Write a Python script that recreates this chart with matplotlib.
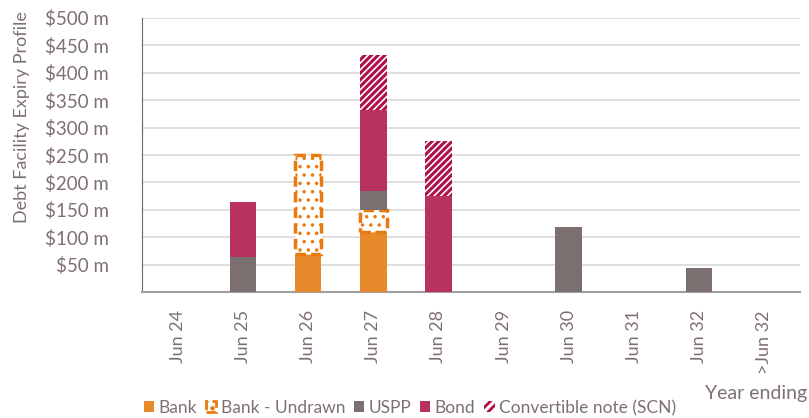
import numpy as np
from matplotlib import pyplot as plt
from matplotlib.patches import Patch

plt.rcParams['font.family'] = ['Lato', 'DejaVu Sans']

categories = ['Jun 24', 'Jun 25', 'Jun 26', 'Jun 27', 'Jun 28', 'Jun 29',
              'Jun 30', 'Jun 31', 'Jun 32', '>Jun 32']
bank = [0, 0, 70, 110, 0, 0, 0, 0, 0, 0]
bank_undrawn = [0, 0, 180, 40, 0, 0, 0, 0, 0, 0]
uspp = [0, 65, 0, 35, 0, 0, 118, 0, 45, 0]
bond = [0, 100, 0, 148, 175, 0, 0, 0, 0, 0]
scn = [0, 0, 0, 100, 100, 0, 0, 0, 0, 0]
yticks = [50, 100, 150, 200, 250, 300, 350, 400, 450, 500]

c_bank = '#E8892B'
c_undrawn = '#E87A10'
c_uspp = '#7B706F'
c_bond = '#B8325F'
c_scn = '#B0104A'
c_text = '#7F7070'

fig = plt.figure(figsize=(8.09, 4.18), dpi=100)
ax = fig.add_axes([0.1755, 0.301, 0.8135, 0.656])

x = np.arange(len(categories))
w = 0.41
bottom = np.zeros(len(categories))

ax.bar(x, bank, w, bottom=bottom, color=c_bank, zorder=3)
bottom += bank

# undrawn: white with orange dots, dashed orange outline
plt.rcParams['hatch.linewidth'] = 1.3
mask = np.array(bank_undrawn) > 0
ax.bar(x[mask], np.array(bank_undrawn)[mask], w, bottom=bottom[mask], facecolor='white',
       edgecolor=c_undrawn, hatch='..', linestyle=(0, (3, 1.5)), linewidth=2.5, zorder=3)
bottom += bank_undrawn
ax.bar(x, uspp, w, bottom=bottom, color=c_uspp, zorder=3)
bottom += uspp
ax.bar(x, bond, w, bottom=bottom, color=c_bond, zorder=3)
bottom += bond

plt.rcParams['hatch.linewidth'] = 2.2
mask = np.array(scn) > 0
ax.bar(x[mask], np.array(scn)[mask], w, bottom=bottom[mask], facecolor='white',
       edgecolor=c_scn, hatch='/////', linewidth=0, zorder=3)

ax.set_xlim(-0.55, len(categories) - 0.45)
ax.set_ylim(0, 500)
ax.set_yticks(yticks)
ax.set_yticklabels(['$%d m' % v for v in yticks], color=c_text, fontsize=13.5)
ax.set_xticks(x)
ax.set_xticklabels(categories, rotation=90, color=c_text, fontsize=13)
ax.tick_params(axis='y', length=0, pad=24)
ax.tick_params(axis='x', length=0, pad=13)
ax.grid(axis='y', color='#D9D9D9', linewidth=1.2, zorder=0)
for s in ['top', 'right']:
    ax.spines[s].set_visible(False)
ax.spines['left'].set_color('#6E6464')
ax.spines['bottom'].set_color('#A0A0A0')
ax.spines['bottom'].set_linewidth(1.5)

fig.text(0.027, 0.72, 'Debt Facility Expiry Profile', rotation=90, ha='center', va='center',
         color=c_text, fontsize=13)
fig.text(0.998, 0.058, 'Year ending', ha='right', va='center', color=c_text, fontsize=14)

plt.rcParams['hatch.linewidth'] = 1.3
h_undrawn = Patch(facecolor='white', edgecolor=c_undrawn, hatch='..', linestyle='--', linewidth=2)
plt.rcParams['hatch.linewidth'] = 2.0
h_scn = Patch(facecolor='white', edgecolor=c_scn, hatch='////', linewidth=0)
handles = [
    Patch(facecolor=c_bank, edgecolor='none'),
    h_undrawn,
    Patch(facecolor=c_uspp, edgecolor='none'),
    Patch(facecolor=c_bond, edgecolor='none'),
    h_scn,
]
labels = ['Bank', 'Bank - Undrawn', 'USPP', 'Bond', 'Convertible note (SCN)']
leg = fig.legend(handles, labels, loc='center left', bbox_to_anchor=(0.178, 0.024), ncol=5,
                 frameon=False, fontsize=12.5, handlelength=0.6, handleheight=0.6,
                 handletextpad=0.25, columnspacing=0.5, borderaxespad=0, borderpad=0)
for t in leg.get_texts():
    t.set_color(c_text)

plt.savefig('out.png', dpi=100)
